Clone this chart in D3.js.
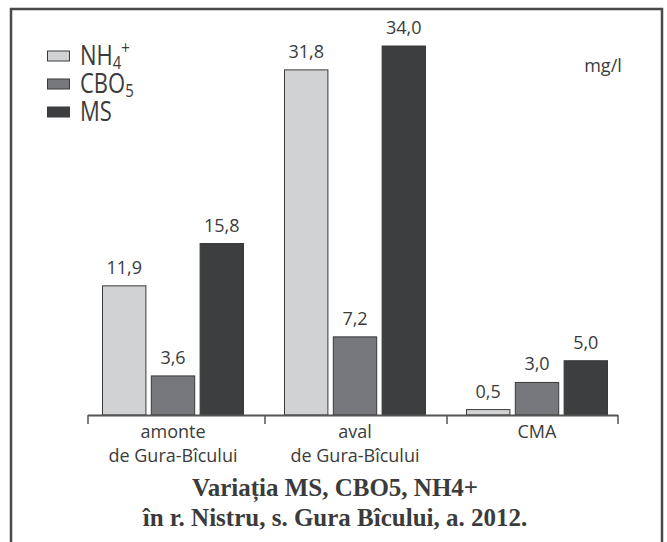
<!DOCTYPE html>
<html>
<head>
<meta charset="utf-8">
<script src="https://cdn.jsdelivr.net/npm/d3@7/dist/d3.min.js"></script>
<style>
  html, body { margin: 0; padding: 0; background: #fff; }
  svg { display: block; }
</style>
</head>
<body>
<svg id="chart" width="667" height="542"></svg>
<script>
// ---- data ----
const categories = ["amonte", "aval", "CMA"];
const categorySub = ["de Gura-Bîcului", "de Gura-Bîcului", ""];
const seriesNames = ["NH4", "CBO5", "MS"];
const nh4 = [11.9, 31.8, 0.5];
const cbo5 = [3.6, 7.2, 3.0];
const ms = [15.8, 34.0, 5.0];
const unitLabel = "mg/l";
const titleLines = ["Variația MS, CBO5, NH4+", "în r. Nistru, s. Gura Bîcului, a. 2012."];

const seriesValues = [nh4, cbo5, ms];
const colors = ["#d1d2d4", "#77787b", "#3d3e40"];
const textColor = "#3b3b3b";

const svg = d3.select("#chart");

// frame
svg.append("rect")
  .attr("x", 11).attr("y", 9)
  .attr("width", 651).attr("height", 560)
  .attr("fill", "none").attr("stroke", "#4a4a4a").attr("stroke-width", 2.5);

const baseY = 415;
const x0 = d3.scaleBand().domain(categories).range([82, 628]).paddingInner(0).paddingOuter(0);
const x1 = d3.scaleBand().domain(seriesNames).range([20, 162]).paddingInner(0.09);
const y = d3.scaleLinear().domain([0, 34]).range([baseY, 46]);

const fmt = v => d3.format(".1f")(v).replace(".", ",");

const rows = categories.map((c, i) => ({
  cat: c,
  vals: seriesNames.map((s, j) => ({ s, j, v: seriesValues[j][i] }))
}));

const g = svg.append("g");
const groups = g.selectAll("g.grp").data(rows).join("g")
  .attr("class", "grp")
  .attr("transform", d => `translate(${x0(d.cat)},0)`);

groups.selectAll("rect").data(d => d.vals).join("rect")
  .attr("x", d => x1(d.s) + 0.5)
  .attr("y", d => y(d.v))
  .attr("width", x1.bandwidth() - 1)
  .attr("height", d => baseY - y(d.v))
  .attr("fill", d => colors[d.j])
  .attr("stroke", "#3a3a3a")
  .attr("stroke-width", 1);

groups.selectAll("text.val").data(d => d.vals).join("text")
  .attr("class", "val")
  .attr("x", d => x1(d.s) + x1.bandwidth() / 2)
  .attr("y", d => y(d.v) - 12)
  .attr("text-anchor", "middle")
  .attr("font-family", "'Open Sans', sans-serif")
  .attr("font-size", 18)
  .attr("fill", textColor)
  .text(d => fmt(d.v));

// axis
const axisG = svg.append("g");
const xStart = x0.range()[0] + 6, xEnd = x0.range()[1] - 10;
axisG.append("line")
  .attr("x1", xStart).attr("x2", xEnd)
  .attr("y1", baseY + 0.5).attr("y2", baseY + 0.5)
  .attr("stroke", "#555").attr("stroke-width", 2);
const tickXs = [xStart].concat(categories.slice(1).map(c => x0(c) + 1)).concat([xEnd]);
axisG.selectAll("line.tick").data(tickXs).join("line")
  .attr("class", "tick")
  .attr("x1", d => d).attr("x2", d => d)
  .attr("y1", baseY).attr("y2", baseY + 9)
  .attr("stroke", "#555").attr("stroke-width", 1.5);

// category labels
const catLbl = svg.append("g").selectAll("text").data(categories).join("text")
  .attr("x", d => x0(d) + x0.bandwidth() / 2)
  .attr("y", 438)
  .attr("text-anchor", "middle")
  .attr("font-family", "'Open Sans', sans-serif")
  .attr("font-size", 18)
  .attr("fill", textColor);
catLbl.append("tspan").text(d => d);
catLbl.append("tspan")
  .attr("x", d => x0(d) + x0.bandwidth() / 2)
  .attr("dy", 24)
  .text((d, i) => categorySub[i]);

// unit
svg.append("text")
  .attr("x", 603).attr("y", 72)
  .attr("text-anchor", "middle")
  .attr("font-family", "'Open Sans', sans-serif")
  .attr("font-size", 18)
  .attr("fill", textColor)
  .text(unitLabel);

// legend
const legendY = d3.scaleBand().domain(seriesNames).range([45, 129]);
const leg = svg.append("g").selectAll("g").data(seriesNames).join("g")
  .attr("transform", d => `translate(47,${legendY(d)})`);
leg.append("rect")
  .attr("x", 0.5).attr("y", 6)
  .attr("width", 22).attr("height", 10)
  .attr("fill", (d, i) => colors[i])
  .attr("stroke", "#3a3a3a").attr("stroke-width", 1);
const legText = leg.append("text")
  .attr("transform", "translate(33,20) scale(1,1.22)")
  .attr("font-family", "'Open Sans', sans-serif")
  .attr("font-size", 22)
  .attr("fill", textColor);
legText.each(function(d) {
  const t = d3.select(this);
  if (d === "NH4") {
    t.append("tspan").text("NH");
    t.append("tspan").attr("font-size", 15).attr("dy", 3).text("4");
    t.append("tspan").attr("font-size", 15).attr("dy", -12).text("+");
  } else if (d === "CBO5") {
    t.append("tspan").text("CBO");
    t.append("tspan").attr("font-size", 15).attr("dy", 3).text("5");
  } else {
    t.append("tspan").text(d);
  }
});

// title
svg.append("g").selectAll("text").data(titleLines).join("text")
  .attr("x", 335)
  .attr("y", (d, i) => 496 + i * 30)
  .attr("text-anchor", "middle")
  .attr("font-family", "'Liberation Serif', serif")
  .attr("font-weight", "bold")
  .attr("font-size", 25)
  .attr("fill", textColor)
  .text(d => d);
</script>
</body>
</html>
